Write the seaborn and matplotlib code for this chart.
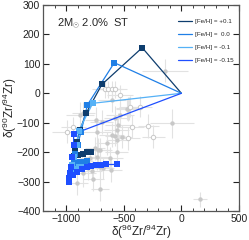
import numpy as np
import pandas as pd
import matplotlib
matplotlib.use("Agg")
import matplotlib.pyplot as plt
import seaborn as sns

# measured grains (filled)
grain_x = [-142, -84, 162, -454, -532, -740, -561, -575, -556, -734, -749, -706, -734,
           -561, -792, -807, -706, -677, -850, -764, -706, -902, -863, -604, -614, -879,
           -575, -648, -619, -850, -460, -547, -518, -720, -778, -691, -604, -469]
grain_y = [77, -102, -360, -51, -74, -91, -125, -145, -159, -130, -187, -193, -215,
           -198, -221, -255, -249, -255, -272, -291, -325, -306, -230, -23, -261, -74,
           -83, -170, -221, -66, -53, -108, -147, -193, -263, -97, -142, -55]
grain_xerr = [200, 190, 60, 110, 120, 100, 110, 90, 100, 120, 90, 100, 110,
              100, 90, 80, 100, 90, 110, 90, 80, 90, 100, 120, 100, 120,
              100, 90, 110, 100, 100, 120, 90, 110, 90, 100, 110, 100]
grain_yerr = [40, 50, 25, 40, 40, 45, 40, 35, 40, 45, 40, 40, 45,
              40, 35, 40, 40, 35, 45, 40, 40, 40, 35, 40, 40, 45,
              40, 40, 40, 35, 40, 40, 40, 40, 35, 40, 40, 35]

# measured grains (open)
open_x = [-662, -634, -604, -576, -532, -989, -937, -460, -445, -431, -359, -287, -243]
open_y = [13, 13, 13, 13, -6, -130, -116, -153, -45, -113, -45, -111, -147]
open_xerr = [110, 100, 100, 100, 110, 130, 110, 100, 100, 110, 100, 90, 100]
open_yerr = [30, 30, 30, 30, 35, 40, 35, 40, 35, 40, 35, 40, 40]

# AGB model tracks
labels = ["[Fe/H] = +0.1", "[Fe/H] =  0.0", "[Fe/H] = -0.1", "[Fe/H] = -0.15"]
colors = ["#0e3d6e", "#1f7fe6", "#55b1f6", "#1f4fff"]

p01_x = [0, -340, -690, -827, -880, -908, -925, -928, -895, -853, -817, -785]
p01_y = [0, 155, 30, -68, -125, -164, -195, -212, -210, -205, -201, -199]
z00_x = [0, -582, -816, -870, -900, -925, -935, -930, -895, -856, -815]
z00_y = [0, 104, -40, -130, -175, -205, -228, -238, -235, -233, -230]
m01_x = [0, -769, -890, -910, -935, -950, -958, -945, -915, -885, -860]
m01_y = [0, -34, -127, -175, -215, -245, -262, -262, -257, -252, -250]
m015_x = [0, -935, -935, -945, -960, -970, -978, -978, -940, -902, -864, -821, -780,
          -740, -700, -650, -555]
m015_y = [0, -138, -175, -215, -250, -270, -288, -302, -278, -266, -256, -250, -246,
          -244, -243, -242, -242]

tracks = [(p01_x, p01_y), (z00_x, z00_y), (m01_x, m01_y), (m015_x, m015_y)]

sns.set_theme(style="ticks")
plt.rcParams['font.family'] = ['Liberation Sans', 'DejaVu Sans']
plt.rcParams['mathtext.fontset'] = 'custom'
plt.rcParams['mathtext.rm'] = 'Liberation Sans'

fig = plt.figure(figsize=(2.49, 2.40), dpi=100)
ax = fig.add_axes([0.173, 0.121, 0.787, 0.858])

# grains
ax.errorbar(grain_x, grain_y, xerr=grain_xerr, yerr=grain_yerr, fmt="none",
            ecolor="#e2e2e2", elinewidth=0.8, zorder=1)
ax.errorbar(open_x, open_y, xerr=open_xerr, yerr=open_yerr, fmt="none",
            ecolor="#e2e2e2", elinewidth=0.8, zorder=1)
sns.scatterplot(x=grain_x, y=grain_y, ax=ax, color="#c8c8c8", s=10,
                linewidth=0, zorder=2)
sns.scatterplot(x=open_x, y=open_y, ax=ax, color="white", edgecolor="#c8c8c8",
                s=10, linewidth=0.7, zorder=2)

for (tx, ty), lab, col in zip(tracks, labels, colors):
    df = pd.DataFrame({"x": tx, "y": ty})
    sns.lineplot(data=df, x="x", y="y", ax=ax, sort=False, estimator=None,
                 color=col, lw=0.9, label=lab, zorder=3)
    sns.scatterplot(data=df.iloc[1:], x="x", y="y", ax=ax, marker="s", s=18,
                    color=col, linewidth=0, zorder=4)

ax.set_xlim(-1200, 500)
ax.set_ylim(-400, 300)
ax.set_xticks([-1000, -500, 0, 500])
ax.set_xticks(np.arange(-1200, 501, 100), minor=True)
ax.set_yticks(np.arange(-400, 301, 100))
ax.set_xticklabels(["\u22121000", "\u2212500", "0", "500"])
ax.tick_params(which="both", direction="in", top=True, right=True,
               labelsize=7.5, colors="#222222", pad=2)
ax.tick_params(which="major", length=4, width=0.8)
ax.tick_params(which="minor", length=2, width=0.6)
for s in ax.spines.values():
    s.set_color("#555555")
    s.set_linewidth(0.9)

ax.set_xlabel(r"δ($^{96}$Zr/$^{94}$Zr)", fontsize=8.5)
ax.set_ylabel(r"δ($^{90}$Zr/$^{94}$Zr)", fontsize=8.5)
ax.xaxis.set_label_coords(0.5, -0.058)
ax.yaxis.set_label_coords(-0.124, 0.5)

ax.text(0.07, 0.91, r"2M$_{\odot}$ 2.0%  ST", transform=ax.transAxes,
        fontsize=8, va="center", ha="left")

ax.legend(loc="upper right", bbox_to_anchor=(1.0, 0.96), frameon=False,
          fontsize=4.5, handlelength=2.2, handletextpad=0.5, labelspacing=1.2)

fig.savefig("out.png", dpi=100)
